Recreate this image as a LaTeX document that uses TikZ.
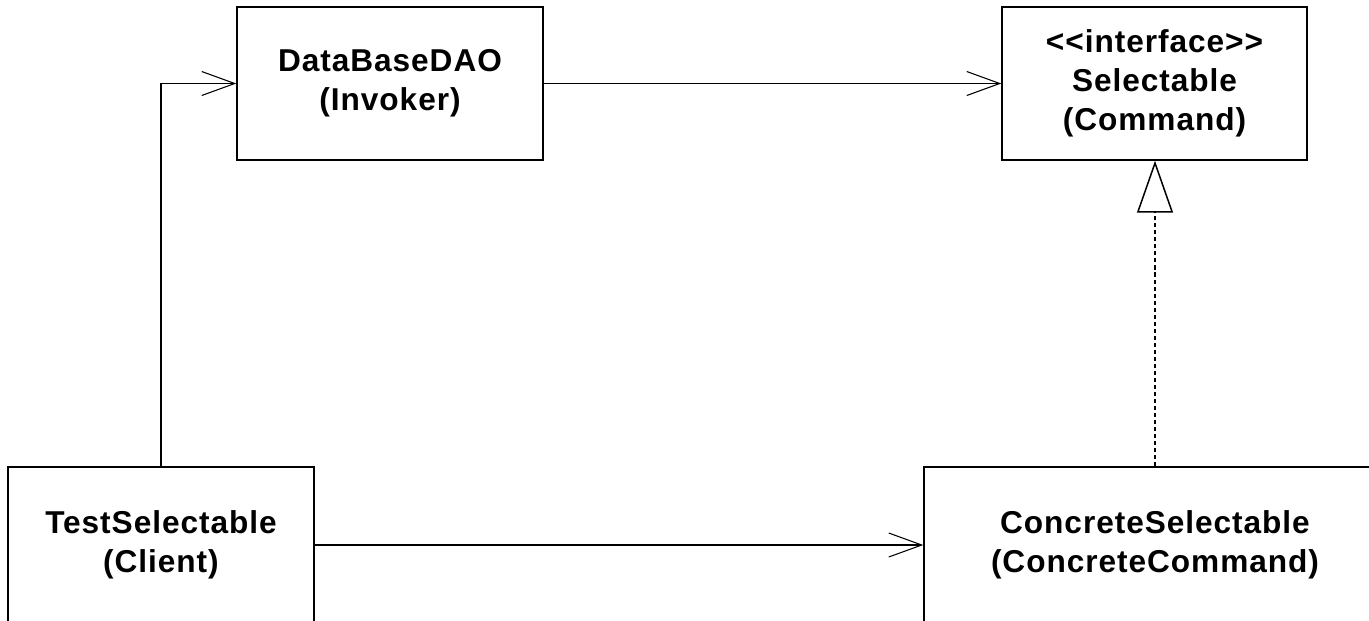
\documentclass[tikz,border=0pt]{standalone}
\usepackage{fontspec}
\usepackage{tikz}
\usetikzlibrary{arrows.meta, positioning}
\newfontfamily\umlfont{Liberation Sans}[LetterSpace=3]
\tikzset{
  classbox/.style={draw=black, line width=0.85pt, fill=white, minimum width=6.12cm, minimum height=3.06cm, align=center, font=\umlfont\bfseries\fontsize{18pt}{22.2pt}\selectfont},
  assocline/.style={-{Straight Barb[length=6.6mm, width=4.8mm]}, line width=0.6pt},
  realline/.style={-{Triangle[open, fill=white, length=10.4mm, width=7.2mm, line width=0.85pt]}, line width=0.6pt, dash pattern=on 2.3pt off 1.7pt}
}

\begin{document}
\begin{tikzpicture}[x=0.02cm, y=-0.02cm]
  \useasboundingbox (0,0) rectangle (1369,620);
  \clip (0,0) rectangle (1369,620);

  % Command pattern: invoker and command interface on top
  \node[classbox] at (390,83.5) (dao)
    {DataBaseDAO \\ (Invoker)};
  \node[classbox, minimum width=6.1cm] at (1154.5,83.5) (sel)
    {<{}<interface>{}> \\ Selectable \\ (Command)};

  % client and concrete command at the bottom, cut by the page edge
  \node[classbox, minimum height=3.12cm] at (161,545) (client)
    {TestSelectable \\ (Client)};
  \node[classbox, minimum width=9.24cm, minimum height=3.12cm] at (1155,545) (concrete)
    {ConcreteSelectable \\ (ConcreteCommand)};

  \draw[assocline] (client.north) |- (dao.west);
  \draw[assocline] (dao.east) -- (sel.west);
  \draw[assocline] (client.east) -- (concrete.west);
  \draw[realline] (concrete.north) -- (concrete.north |- sel.south);
\end{tikzpicture}
\end{document}
